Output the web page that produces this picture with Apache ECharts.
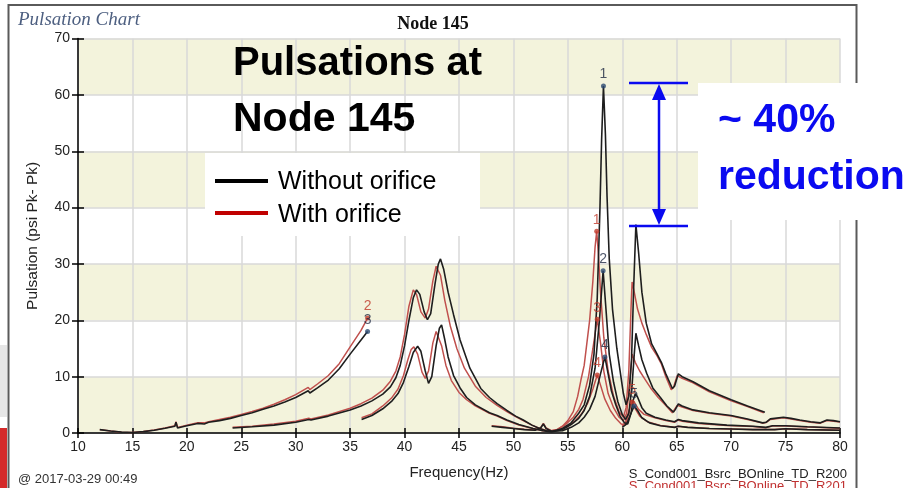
<!DOCTYPE html>
<html><head><meta charset="utf-8">
<script src="https://cdn.jsdelivr.net/npm/echarts@6/dist/echarts.min.js"></script>
<style>html,body{margin:0;padding:0;background:#fff}#c{width:909px;height:488px}</style>
</head><body><div id="c"></div>
<script>
// ---------- DATA ----------
const xTicks = [10,15,20,25,30,35,40,45,50,55,60,65,70,75,80];
const yTicks = [0,10,20,30,40,50,60,70];

// Without orifice (black)
const black1x = [[12,0.6],[13,0.35],[14,0.15],[15,0.1],[16,0.25],[17,0.5],[18,0.85],[18.9,1.2],[19.0,1.9],[19.15,0.9],[20,1.3],[21,1.7],[21.6,1.6],[22,1.9],[23,2.2],[24,2.6],[25,3.1],[26,3.6],[27,4.2],[28,4.8],[29,5.5],[30,6.3],[31.15,7.5],[31.3,7.1],[32,8.0],[33,9.4],[34,11.4],[35,14.0],[36,16.5],[36.6,18.0]];
const black2x = [[24.2,0.9],[26,1.1],[28,1.4],[30,1.9],[31.2,2.4],[31.4,2.3],[33,3.0],[35,4.1],[36,4.8],[37,5.7],[38,6.9],[38.7,8.2],[39.2,9.8],[39.6,12],[40,15.5],[40.4,20],[40.8,24],[41.1,25.4],[41.4,24.6],[41.8,21.5],[42.1,20.1],[42.4,21.2],[42.8,26.5],[43.1,30],[43.3,30.9],[43.6,29],[44.0,25],[44.5,21],[45.1,16.5],[46,11.5],[47,7.9],[47.8,6.3],[48.5,5.2],[49.4,4.0],[50.2,3.0],[50.9,2.3],[51.7,1.4],[52.4,0.8],[53,0.4],[53.6,0.3],[54.5,0.8],[55.3,1.8],[56,3.5],[56.5,5],[57.0,8.5],[57.4,14],[57.7,24],[57.95,40],[58.1,52],[58.27,61.6],[58.45,53],[58.6,42],[58.8,31],[59.1,22],[59.5,15],[59.8,11],[60.1,7],[60.35,5],[60.6,6.5],[60.85,13],[61.05,26],[61.25,37],[61.5,32],[61.8,25],[62.2,19.5],[62.7,15.8],[63.2,14],[63.6,12.5],[64.0,10.5],[64.6,7.9],[64.8,8.3],[65.15,10.5],[65.5,10.0],[66.5,9.1],[68,7.5],[70,5.9],[71.5,4.8],[73.1,3.7]];
const black3x = [[36.05,2.4],[37,3.1],[38,4.3],[38.8,5.6],[39.4,7],[39.9,9],[40.4,11.8],[40.8,14.3],[41.2,15.4],[41.5,14.5],[41.9,11],[42.2,8.8],[42.5,10],[42.9,15.5],[43.2,18.6],[43.4,19.2],[43.7,16.5],[44.0,13.5],[44.5,10.2],[45.1,8.0],[45.7,6.3],[46.5,5.0],[47.8,3.6],[48.5,3.1],[49.4,2.3],[50.5,1.5],[51.8,0.8],[52.7,0.4],[53.5,0.2],[54.5,0.6],[55.3,1.5],[56,2.6],[56.5,4],[57.0,6.5],[57.5,11.5],[57.9,20],[58.24,28.8],[58.5,22],[58.8,14],[59.2,9],[59.6,5.5],[60.0,3.3],[60.3,2.4],[60.6,3.5],[60.9,8.5],[61.1,14],[61.25,17.7],[61.5,15.5],[61.8,13],[62.24,10.6],[62.8,8],[63.5,6.3],[64.1,4.8],[64.7,3.7],[64.85,4.1],[65.15,5.15],[65.5,4.8],[66.5,4.1],[68,3.6],[70,3.1],[71.5,2.5],[72.9,1.8],[73.2,1.9],[73.6,2.5],[74.8,2.8],[75.5,2.6],[76.3,2.3],[77.3,2.0],[78.2,1.8],[78.8,2.3],[79.4,2.2],[80,2.0]];
const black4x = [[48.0,1.2],[49,1.0],[50,0.8],[51,0.6],[52,0.5],[52.5,0.9],[52.75,1.6],[53.0,0.8],[53.5,0.3],[54.5,0.4],[55.3,1.0],[56,1.8],[56.5,2.8],[57.0,4.2],[57.5,6.5],[58.0,10.5],[58.4,13.5],[58.7,10.5],[59.0,7.5],[59.4,5],[59.8,3.0],[60.2,1.8],[60.5,1.6],[60.8,3.5],[61.0,5.8],[61.2,7.0],[61.4,6.4],[61.8,4.5],[62.2,3.5],[63,2.8],[64,2.3],[64.8,2.0],[65.15,2.4],[65.5,2.2],[67,1.8],[69.6,1.4],[72,1.2],[73.2,1.0],[73.8,1.3],[75,1.3],[77,1.1],[80,0.9]];
const black5x = [[60.0,1.0],[60.4,1.6],[60.8,3.5],[61.1,4.8],[61.4,4.0],[61.8,2.7],[62.5,1.8],[63.5,1.3],[64.8,1.0],[65.15,1.2],[66,1.0],[68,0.8],[70,0.7],[72,0.6],[74,0.6],[75,0.75],[77,0.6],[80,0.5]];

// With orifice (red)
const red1x = [[12,0.6],[13,0.35],[14,0.15],[15,0.1],[16,0.25],[17,0.55],[18,0.9],[18.9,1.3],[19.0,2.0],[19.15,1.0],[20,1.4],[21,1.8],[21.6,1.8],[22,2.0],[23,2.4],[24,2.8],[25,3.3],[26,3.8],[27,4.4],[28,5.1],[29,5.9],[30,6.8],[31.15,8.1],[31.3,7.7],[32,8.7],[33,10.2],[34,12.3],[35,15.3],[36,18.2],[36.6,20.4]];
const red2x = [[24.2,1.0],[26,1.2],[28,1.6],[30,2.1],[31.2,2.6],[31.4,2.5],[33,3.2],[35,4.4],[36,5.2],[37,6.2],[38,7.6],[38.7,9.2],[39.2,11],[39.6,13.5],[40,17.5],[40.4,22.5],[40.8,25.4],[41.1,24.6],[41.5,21.5],[41.9,20.4],[42.2,22],[42.6,27],[42.9,29.6],[43.0,29.9],[43.3,28],[43.7,23.5],[44.2,19],[44.8,15],[45.5,11.5],[46.5,8.3],[47.5,6.3],[48.5,4.9],[49.4,3.8],[50.2,2.9],[50.9,2.2],[51.7,1.4],[52.4,0.8],[53,0.5],[53.5,0.4],[54,0.6],[54.5,1.2],[55,2.2],[55.5,3.8],[55.9,6.5],[56.2,9.4],[56.5,12],[57.0,20],[57.3,27],[57.5,33],[57.65,35.8],[57.8,32],[58.0,25],[58.3,17],[58.7,11],[59.2,6.5],[59.7,3.8],[60.1,2.8],[60.35,4.5],[60.6,11],[60.8,22],[60.9,26.8],[61.1,25],[61.4,22],[61.8,19.5],[62.2,17.5],[62.7,15.2],[63.2,13.7],[63.6,12.2],[64.0,10.0],[64.5,7.7],[64.7,8.1],[65.05,10.2],[65.5,9.7],[66.5,8.9],[68,7.3],[70,5.7],[71.5,4.7],[73.0,3.6]];
const red3x = [[36.05,2.7],[37,3.4],[38,4.8],[38.8,6.2],[39.4,7.8],[39.9,10.2],[40.3,13],[40.6,14.8],[40.85,15.3],[41.2,14],[41.6,10.8],[41.9,9.7],[42.2,11],[42.6,16],[42.9,18],[43.05,18.3],[43.4,15.5],[43.8,12],[44.3,9.3],[45,7.2],[45.7,5.9],[46.5,4.8],[47.8,3.5],[48.5,3.0],[49.4,2.2],[50.5,1.4],[51.8,0.8],[52.7,0.4],[53.3,0.3],[54,0.6],[54.8,1.5],[55.5,2.8],[56,4.2],[56.4,6],[56.9,10],[57.3,15],[57.7,20.2],[58.0,16],[58.3,11],[58.7,7],[59.2,4.5],[59.7,2.8],[60.1,2.2],[60.4,3.5],[60.7,9],[60.9,14],[61.2,12.5],[61.6,11],[62.0,9.8],[62.6,8],[63.3,6.3],[64,4.9],[64.6,3.6],[64.75,3.9],[65.05,4.9],[65.5,4.6],[66.5,4.0],[68,3.5],[70,3.0],[71.5,2.4],[72.9,1.75],[73.2,1.85],[73.6,2.4],[74.8,2.7],[75.5,2.5],[76.3,2.2],[77.3,1.9],[78.2,1.75],[78.8,2.2],[79.4,2.1],[80,1.95]];
const red4x = [[48.0,1.3],[49,1.1],[50,0.85],[51,0.65],[52,0.55],[52.5,0.95],[52.75,1.7],[53.0,0.9],[53.5,0.4],[54.3,0.6],[55,1.2],[55.7,2.2],[56.3,3.5],[56.8,5.2],[57.3,7.8],[57.7,10.3],[58.0,8.5],[58.4,6],[58.9,4],[59.4,2.6],[59.9,1.6],[60.3,1.4],[60.6,3.5],[60.85,5.8],[61.1,5.5],[61.5,4.2],[62,3.3],[63,2.7],[64,2.2],[64.8,1.9],[65.1,2.3],[65.5,2.1],[67,1.7],[69.6,1.35],[72,1.15],[73.2,0.95],[73.8,1.25],[75,1.25],[77,1.05],[80,0.85]];
const red5x = [[60.0,1.2],[60.3,2],[60.7,4.5],[60.9,5.5],[61.2,4.3],[61.6,3.0],[62.3,2.0],[63.5,1.35],[64.8,1.0],[65.1,1.2],[66,1.0],[68,0.8],[70,0.7],[72,0.6],[74,0.6],[75,0.75],[77,0.6],[80,0.5]];

// peak markers [x, y, label]
const blackMarks = [[58.27,61.6,'1'],[58.24,28.8,'2'],[36.6,18.0,'3'],[58.4,13.5,'4'],[61.1,4.8,'5']];
const redMarks = [[57.65,35.8,'1'],[36.6,20.4,'2'],[57.7,20.2,'3'],[57.7,10.3,'4'],[60.9,5.5,'5']];

// ---------- CHART ----------
const chart = echarts.init(document.getElementById('c'), null, {renderer:'canvas'});
const BLACK = '#1e1e1e', RED = '#c0504d';
function line(data, color, w){ return {type:'line', data, symbol:'none', showSymbol:false, silent:true, lineStyle:{color, width:w}, z:2}; }
function marks(data, lblColor, dotColor){
  return {type:'scatter', data, symbolSize:5, itemStyle:{color:dotColor}, z:5, silent:true,
    label:{show:true, position:'top', distance:2, formatter:p=>p.value[2], color:lblColor, fontFamily:'Arial, Liberation Sans', fontSize:14}};
}
const axisBase = {type:'value', min:10, max:80, interval:5};
const option = {
  animation:false,
  grid:{left:78, top:38.6, right:69, bottom:55, containLabel:false},
  xAxis:[
    Object.assign({}, axisBase, {
      axisLine:{show:true, lineStyle:{color:'#000', width:1.5}},
      axisTick:{show:true, length:5, lineStyle:{color:'#000', width:1.5}},
      axisLabel:{color:'#222', fontSize:14, fontFamily:'Arial, Liberation Sans', margin:7, formatter:v=>xTicks.includes(v)?String(v):''},
      splitLine:{show:true, lineStyle:{color:'#d9d9d9', width:1.5}},
      name:'Frequency(Hz)', nameLocation:'middle', nameGap:32,
      nameTextStyle:{color:'#222', fontSize:15, fontFamily:'Arial, Liberation Sans'}
    }),
    Object.assign({}, axisBase, {position:'bottom', axisLine:{show:false}, axisLabel:{show:false}, splitLine:{show:false},
      axisTick:{show:true, inside:true, length:5, lineStyle:{color:'#000', width:1.5}}})
  ],
  yAxis:[
    {type:'value', min:0, max:70, interval:10,
      axisLine:{show:true, lineStyle:{color:'#000', width:1.5}},
      axisTick:{show:true, length:6, lineStyle:{color:'#000', width:1.5}},
      axisLabel:{color:'#222', fontSize:14, fontFamily:'Arial, Liberation Sans', margin:8, formatter:v=>yTicks.includes(v)?String(v):''},
      splitLine:{show:true, lineStyle:{color:'#d9d9d9', width:1.5}},
      splitArea:{show:true, areaStyle:{color:['#f3f3dc','#ffffff']}},
      name:'Pulsation (psi Pk- Pk)', nameLocation:'middle', nameGap:37, nameRotate:90,
      nameTextStyle:{color:'#222', fontSize:15.5, fontFamily:'Arial, Liberation Sans'}
    },
    {type:'value', min:0, max:70, interval:10, position:'left', axisLine:{show:false}, axisLabel:{show:false}, splitLine:{show:false},
      axisTick:{show:true, inside:true, length:6, lineStyle:{color:'#000', width:1.5}}}
  ],
  series:[
    line(red1x, RED, 1.5), line(red2x, RED, 1.5), line(red3x, RED, 1.5), line(red4x, RED, 1.5), line(red5x, RED, 1.5),
    line(black1x, BLACK, 1.6), line(black2x, BLACK, 1.6), line(black3x, BLACK, 1.6), line(black4x, BLACK, 1.6), line(black5x, BLACK, 1.6),
    marks(redMarks, '#c0392b', '#c0392b'),
    marks(blackMarks, '#1f2a44', '#2b4870')
  ],
  graphic:[
    {type:'rect', z:50, shape:{x:8.5, y:5, width:848, height:500}, style:{fill:'none', stroke:'#5a5a5a', lineWidth:2}},
    {type:'rect', z:50, shape:{x:0, y:345, width:7, height:72}, style:{fill:'#e6e6e6'}},
    {type:'rect', z:50, shape:{x:0, y:428, width:7, height:60}, style:{fill:'#d42a2a'}},
    {type:'text', z:60, left:18, top:10, style:{text:'Pulsation Chart', fill:'#4d5f80', font:'italic 19px "Liberation Serif", "DejaVu Serif", serif'}},
    {type:'text', z:60, style:{x:433, y:33, text:'Node 145', fill:'#111', textAlign:'center', textVerticalAlign:'bottom', font:'bold 18px "Liberation Serif", serif'}},
    {type:'text', z:60, style:{x:18, y:486, text:'@ 2017-03-29 00:49', fill:'#333', textVerticalAlign:'bottom', font:'13px Arial, "Liberation Sans"'}},
    {type:'text', z:60, style:{x:847, y:481, text:'S_Cond001_Bsrc_BOnline_TD_R200', fill:'#222', textAlign:'right', textVerticalAlign:'bottom', font:'13px Arial, "Liberation Sans"'}},
    {type:'text', z:60, style:{x:847, y:493, text:'S_Cond001_Bsrc_BOnline_TD_R201', fill:'#c03030', textAlign:'right', textVerticalAlign:'bottom', font:'13px Arial, "Liberation Sans"'}},
    {type:'text', z:70, style:{x:233, y:84, text:'Pulsations at', fill:'#000', textVerticalAlign:'bottom', font:'bold 40px "Liberation Sans", Arial'}},
    {type:'text', z:70, style:{x:233, y:140, text:'Node 145', fill:'#000', textVerticalAlign:'bottom', font:'bold 41px "Liberation Sans", Arial'}},
    {type:'rect', z:70, shape:{x:205, y:153, width:275, height:83}, style:{fill:'#fff'}},
    {type:'line', z:71, shape:{x1:215, y1:181, x2:268, y2:181}, style:{stroke:'#000', lineWidth:4}},
    {type:'line', z:71, shape:{x1:215, y1:213, x2:268, y2:213}, style:{stroke:'#c00000', lineWidth:4}},
    {type:'text', z:71, style:{x:278, y:182, text:'Without orifice', fill:'#000', textVerticalAlign:'middle', font:'25px "Liberation Sans", Arial'}},
    {type:'text', z:71, style:{x:278, y:215, text:'With orifice', fill:'#000', textVerticalAlign:'middle', font:'25px "Liberation Sans", Arial'}},
    {type:'rect', z:70, shape:{x:698, y:83, width:211, height:137}, style:{fill:'#fff'}},
    {type:'text', z:71, style:{x:718, y:141, text:'~ 40%', fill:'#0a0af0', textVerticalAlign:'bottom', font:'bold 41px "Liberation Sans", Arial'}},
    {type:'text', z:71, style:{x:718, y:198, text:'reduction', fill:'#0a0af0', textVerticalAlign:'bottom', font:'bold 41px "Liberation Sans", Arial'}},
    {type:'line', z:72, shape:{x1:629, y1:83, x2:688, y2:83}, style:{stroke:'#0a0af0', lineWidth:2.5}},
    {type:'line', z:72, shape:{x1:629, y1:226, x2:688, y2:226}, style:{stroke:'#0a0af0', lineWidth:2.5}},
    {type:'line', z:72, shape:{x1:659, y1:95, x2:659, y2:214}, style:{stroke:'#0a0af0', lineWidth:2.5}},
    {type:'polygon', z:72, shape:{points:[[659,84],[652,100],[666,100]]}, style:{fill:'#0a0af0'}},
    {type:'polygon', z:72, shape:{points:[[659,225],[652,209],[666,209]]}, style:{fill:'#0a0af0'}}
  ]
};
chart.setOption(option);
</script></body></html>
